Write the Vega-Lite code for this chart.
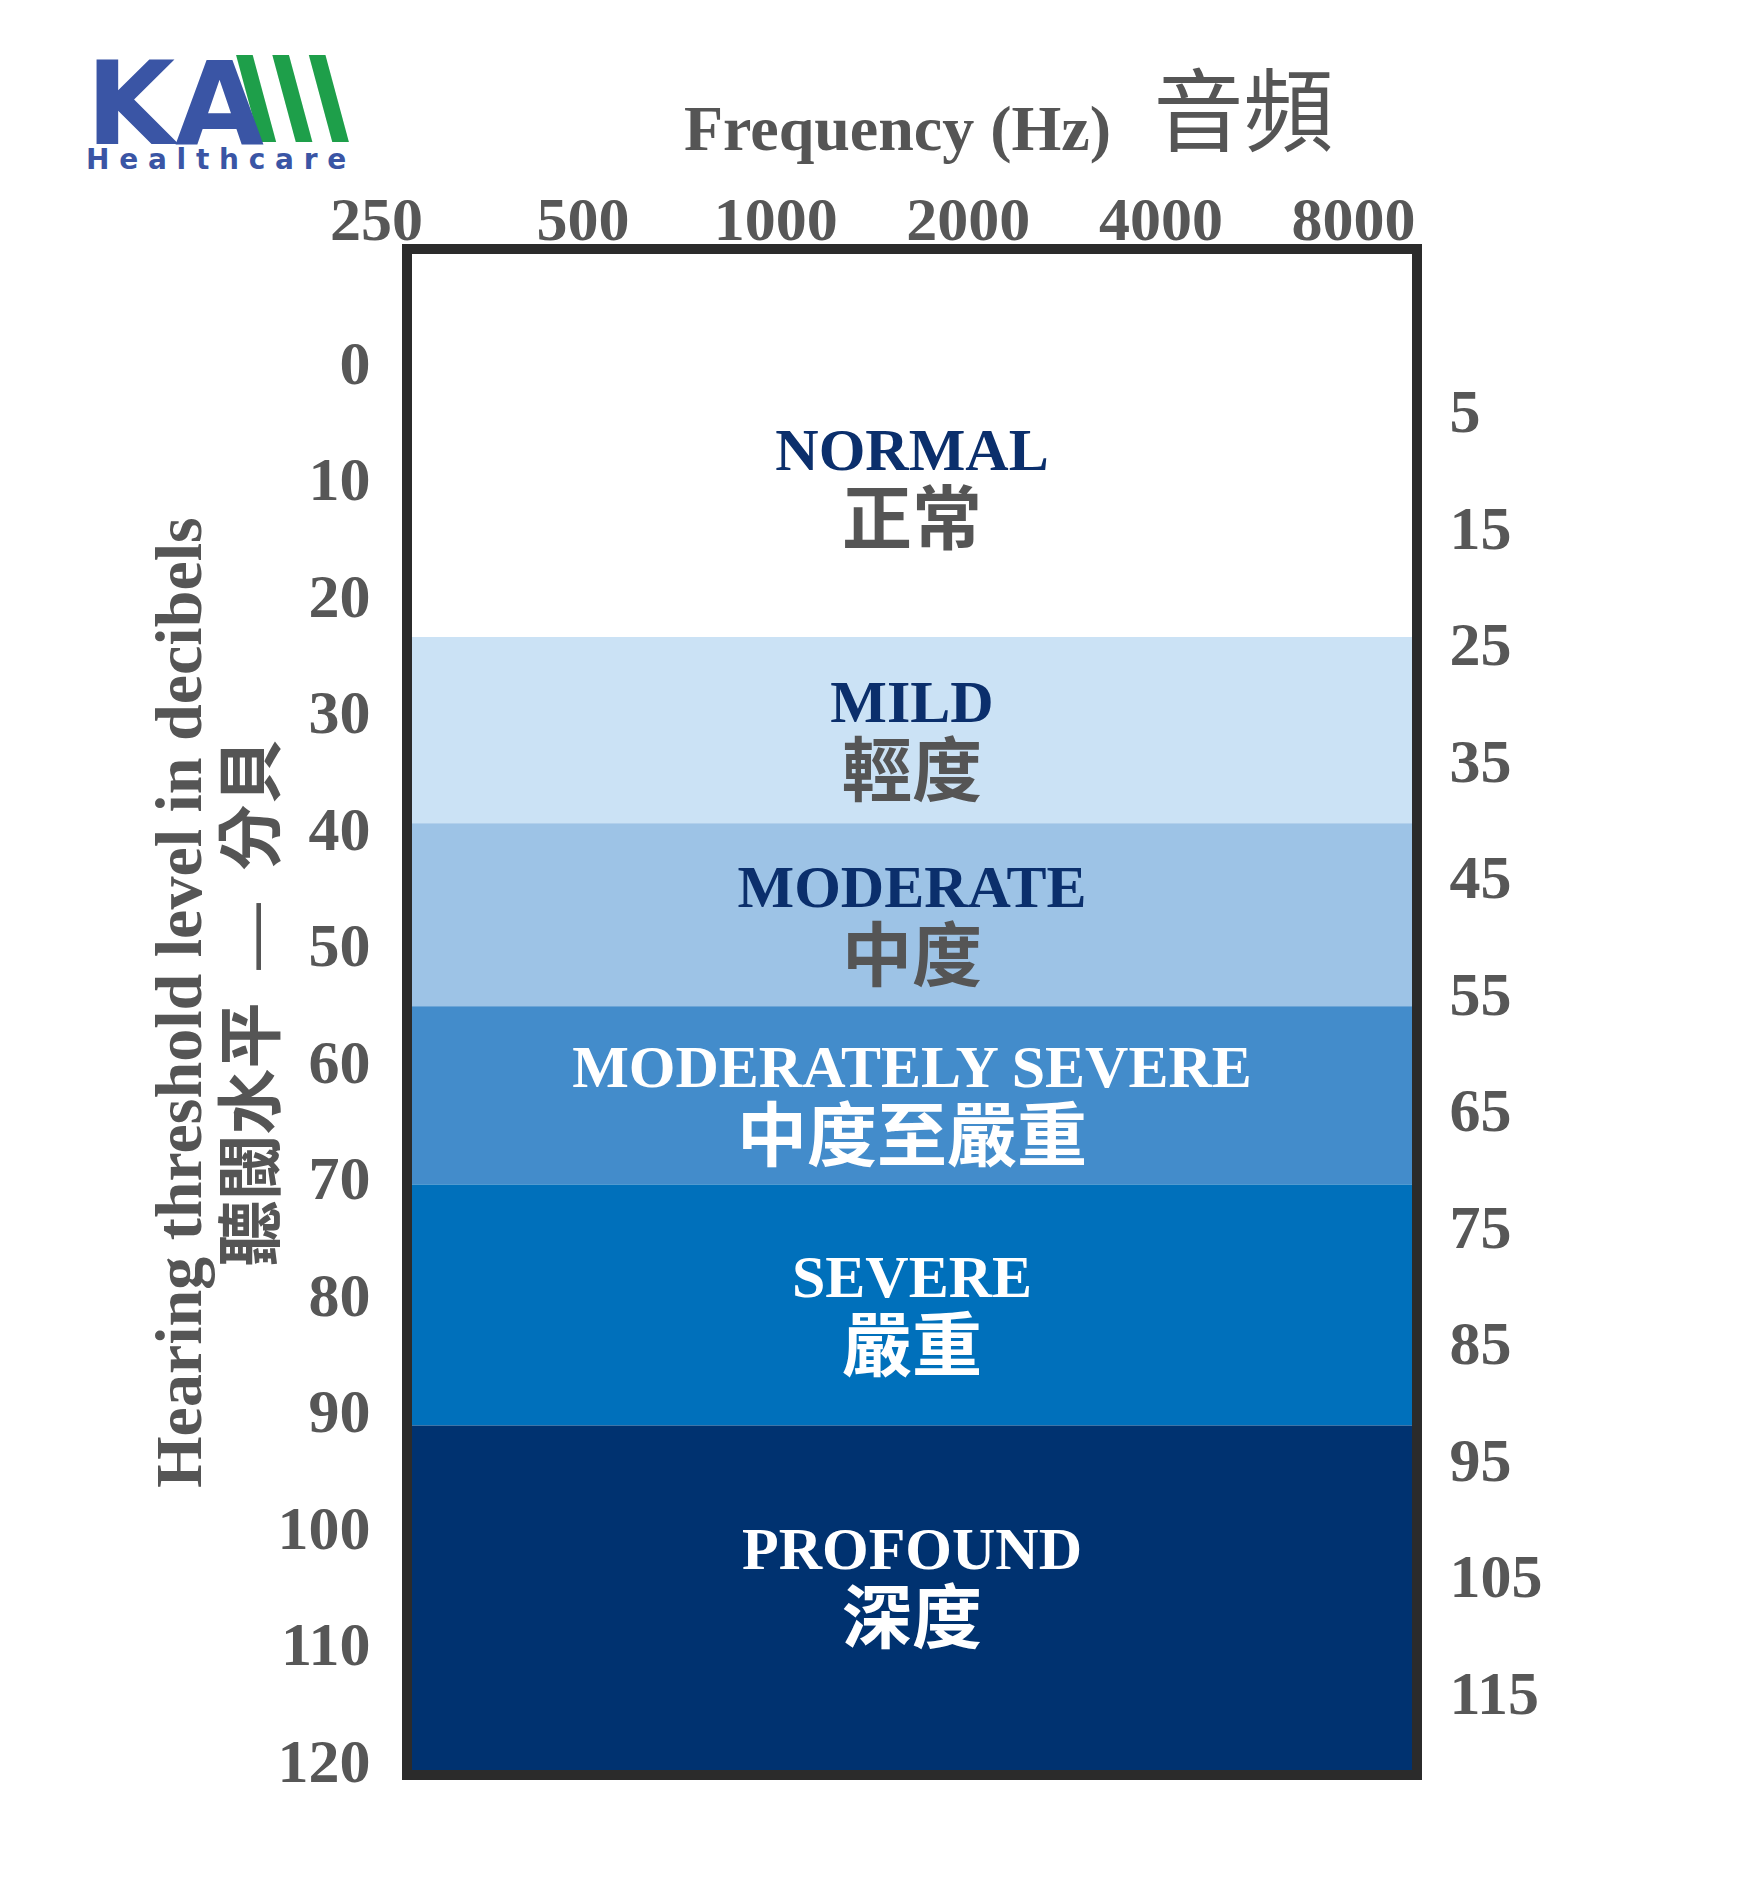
{
  "$schema": "https://vega.github.io/schema/vega-lite/v6.json",
  "width": 1010,
  "height": 1526,
  "autosize": {"type": "none"},
  "padding": {"left": 407, "top": 249, "right": 331, "bottom": 115},
  "background": "#ffffff",
  "config": {"view": {"stroke": null}, "font": "Liberation Serif"},
  "title": {
    "text": "KA",
    "subtitle": "H e a l t h c a r e",
    "anchor": "start",
    "frame": "group",
    "dx": -321,
    "dy": 126,
    "offset": 0,
    "font": "DejaVu Sans",
    "fontSize": 115,
    "fontWeight": "bold",
    "color": "#3a55a5",
    "subtitleFont": "DejaVu Sans",
    "subtitleFontSize": 28,
    "subtitleFontWeight": "bold",
    "subtitleColor": "#3a55a5",
    "subtitlePadding": -21
  },
  "datasets": {
    "bands": [
      {"band": "NORMAL", "zh": "正常", "lo": -10, "hi": 23.3},
      {"band": "MILD", "zh": "輕度", "lo": 23.3, "hi": 39.3},
      {"band": "MODERATE", "zh": "中度", "lo": 39.3, "hi": 55},
      {"band": "MODERATELY SEVERE", "zh": "中度至嚴重", "lo": 55, "hi": 70.3},
      {"band": "SEVERE", "zh": "嚴重", "lo": 70.3, "hi": 91},
      {"band": "PROFOUND", "zh": "深度", "lo": 91, "hi": 121}
    ],
    "freqs": [
      {"f": 250}, {"f": 500}, {"f": 1000}, {"f": 2000}, {"f": 4000}, {"f": 8000}
    ]
  },
  "layer": [
    {
      "data": {"name": "bands"},
      "mark": {"type": "rect"},
      "encoding": {
        "y": {
          "field": "lo",
          "type": "quantitative",
          "scale": {"domain": [-10, 121], "reverse": true, "nice": false, "zero": false},
          "axis": {
            "orient": "left",
            "values": [0, 10, 20, 30, 40, 50, 60, 70, 80, 90, 100, 110, 120],
            "format": "d",
            "domain": false,
            "ticks": false,
            "tickSize": 0,
            "grid": false,
            "labelFont": "Liberation Serif",
            "labelFontWeight": "bold",
            "labelFontSize": 62,
            "labelColor": "#575757",
            "labelPadding": 37,
            "labelOffset": -1,
            "labelFlush": false,
            "labelOverlap": false,
            "title": ["Hearing threshold level in decibels", "聽閾水平\u00a0\u00a0—\u00a0\u00a0分貝"],
            "titleFont": "Liberation Serif, Noto Sans CJK TC",
            "titleFontSize": 66,
            "titleFontWeight": "bold",
            "titleColor": "#555555",
            "titleAngle": -90,
            "titleAlign": "center",
            "titleBaseline": "alphabetic",
            "titleLineHeight": 73,
            "titleX": -207,
            "titleY": 753
          }
        },
        "y2": {"field": "hi"},
        "color": {
          "field": "band",
          "type": "nominal",
          "scale": {
            "domain": ["NORMAL", "MILD", "MODERATE", "MODERATELY SEVERE", "SEVERE", "PROFOUND"],
            "range": ["#ffffff", "#cbe2f5", "#9dc3e6", "#438ccb", "#0070bb", "#003270"]
          },
          "legend": null
        }
      }
    },
    {
      "data": {"name": "bands"},
      "transform": [{"calculate": "(max(datum.lo, -4) + min(datum.hi, 117)) / 2", "as": "mid"}],
      "mark": {
        "type": "text",
        "font": "Liberation Serif",
        "fontWeight": "bold",
        "fontSize": 60,
        "baseline": "alphabetic",
        "align": "center",
        "dy": -8
      },
      "encoding": {
        "y": {
          "field": "mid",
          "type": "quantitative",
          "axis": {
            "orient": "right",
            "values": [5, 15, 25, 35, 45, 55, 65, 75, 85, 95, 105, 115],
            "format": "d",
            "domain": false,
            "ticks": false,
            "tickSize": 0,
            "grid": false,
            "labelFont": "Liberation Serif",
            "labelFontWeight": "bold",
            "labelFontSize": 62,
            "labelColor": "#575757",
            "labelPadding": 32,
            "labelOffset": -11,
            "labelFlush": false,
            "labelOverlap": false,
            "title": "音頻",
            "titleFont": "Noto Sans CJK TC",
            "titleFontSize": 90,
            "titleFontWeight": "normal",
            "titleColor": "#555555",
            "titleAngle": 0,
            "titleAlign": "center",
            "titleBaseline": "alphabetic",
            "titleX": -174,
            "titleY": -106
          }
        },
        "text": {"field": "band"},
        "color": {"condition": {"test": "datum.lo >= 55", "value": "#ffffff"}, "value": "#0b2f6c"}
      }
    },
    {
      "data": {"name": "bands"},
      "transform": [{"calculate": "(max(datum.lo, -4) + min(datum.hi, 117)) / 2", "as": "mid"}],
      "mark": {
        "type": "text",
        "font": "Noto Sans CJK TC",
        "fontWeight": "bold",
        "fontSize": 70,
        "baseline": "alphabetic",
        "align": "center",
        "dy": 66
      },
      "encoding": {
        "y": {"field": "mid", "type": "quantitative", "axis": null},
        "text": {"field": "zh"},
        "color": {"condition": {"test": "datum.lo >= 55", "value": "#ffffff"}, "value": "#555555"}
      }
    },
    {
      "data": {"name": "freqs"},
      "mark": {"type": "point", "opacity": 0},
      "encoding": {
        "x": {
          "field": "f",
          "type": "quantitative",
          "scale": {"type": "log", "base": 2, "domain": [250, 9475], "nice": false, "zero": false},
          "axis": {
            "orient": "top",
            "values": [250, 500, 1000, 2000, 4000, 8000],
            "format": "d",
            "domain": false,
            "ticks": false,
            "tickSize": 0,
            "grid": false,
            "labelFont": "Liberation Serif",
            "labelFontWeight": "bold",
            "labelFontSize": 62,
            "labelColor": "#575757",
            "labelBaseline": "alphabetic",
            "labelPadding": 10,
            "labelFlush": false,
            "labelOverlap": false,
            "labelOffset": {"condition": {"test": "datum.value == 250", "value": -31}, "value": -17},
            "title": "Frequency (Hz)",
            "titleFont": "Liberation Serif",
            "titleFontSize": 64,
            "titleFontWeight": "bold",
            "titleColor": "#555555",
            "titleAngle": 0,
            "titleAlign": "center",
            "titleBaseline": "alphabetic",
            "titleX": 490,
            "titleY": -99.5
          }
        }
      }
    },
    {
      "data": {"name": "freqs"},
      "mark": {"type": "point", "opacity": 0},
      "encoding": {
        "x": {
          "field": "f",
          "type": "quantitative",
          "axis": {
            "orient": "bottom",
            "domain": false,
            "ticks": false,
            "labels": false,
            "grid": false,
            "title": "\\\\\\",
            "titleFont": "Inter",
            "titleFontSize": 100,
            "titleFontWeight": 900,
            "titleColor": "#1e9f4a",
            "titleAngle": 0,
            "titleAlign": "left",
            "titleBaseline": "alphabetic",
            "titleX": -172,
            "titleY": -1645
          }
        }
      }
    },
    {
      "data": {"values": [{"frame": 1}]},
      "mark": {"type": "rect", "filled": false, "stroke": "#2b2b2b", "strokeWidth": 10},
      "encoding": {}
    }
  ],
  "resolve": {"axis": {"x": "independent", "y": "independent"}}
}
